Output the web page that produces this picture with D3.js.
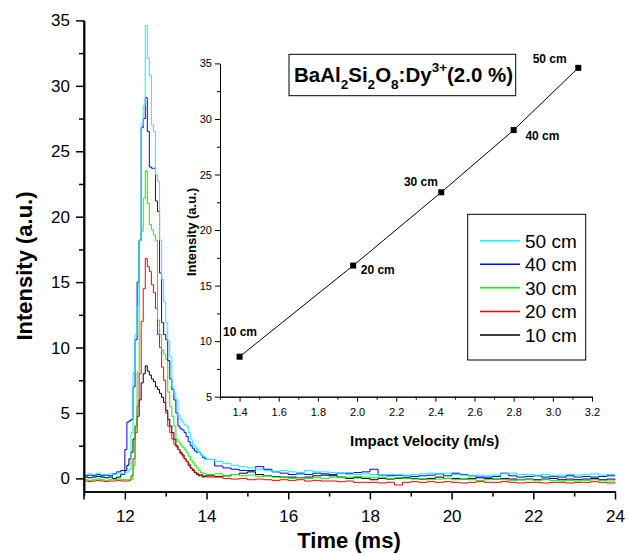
<!DOCTYPE html>
<html><head><meta charset="utf-8">
<script src="https://cdn.jsdelivr.net/npm/d3@7"></script>
<style>body{margin:0;background:#fff} svg{display:block}</style>
</head><body><svg id="c" width="630" height="555"></svg>
<script>
// ---------- DATA ----------
const timeMs = [
 11.0,11.1,11.2,11.3,11.4,11.5,11.6,11.7,11.8,11.9,
 12.00,12.05,12.10,12.15,12.20,12.25,12.30,12.35,12.40,12.45,
 12.50,12.55,12.60,12.65,12.70,12.75,12.80,12.85,12.90,12.95,
 13.00,13.05,13.10,13.15,13.20,13.25,13.30,13.35,13.40,13.45,
 13.50,13.55,13.60,13.65,13.70,13.75,13.80,13.85,13.90,13.95,
 14.0,14.2,14.4,14.6,14.8,15.0,15.2,15.4,15.6,15.8,
 16.0,16.2,16.4,16.6,16.8,17.0,17.2,17.4,17.6,17.8,
 18.0,18.2,18.4,18.6,18.8,19.0,19.2,19.4,19.6,19.8,
 20.0,20.2,20.4,20.6,20.8,21.0,21.2,21.4,21.6,21.8,
 22.0,22.2,22.4,22.6,22.8,23.0,23.2,23.4,23.6,23.8,
 24.0];

const intensity50cm = [
 0.3,0.35,0.3,0.4,0.3,0.3,0.35,0.3,0.4,0.35,
 0.4,0.5,0.7,3.5,8.1,11.0,13.2,18.2,27.0,28.5,
 34.6,32.1,30.8,27.0,26.5,23.2,22.7,18.2,15.2,13.5,
 11.9,10.5,9.3,7.0,6.5,6.0,4.8,4.5,4.3,4.1,
 4.0,3.5,3.0,2.6,2.4,2.2,2.0,1.8,1.7,1.6,
 1.45,1.3,1.15,1.0,0.9,0.8,0.7,0.6,0.55,0.6,
 0.5,0.45,0.6,0.5,0.5,0.45,0.4,0.45,0.3,0.35,
 0.3,0.25,0.3,0.3,0.25,0.3,0.35,0.4,0.35,0.4,
 0.3,0.25,0.2,0.25,0.2,0.25,0.35,0.4,0.3,0.3,
 0.25,0.3,0.2,0.25,0.3,0.25,0.3,0.35,0.25,0.3,
 0.2];
const intensity40cm = [
 0.2,0.25,0.2,0.3,0.2,0.25,0.2,0.35,0.5,0.6,
 2.2,4.3,4.4,4.5,7.0,10.6,15.0,18.2,26.8,27.5,
 29.1,26.5,23.8,23.7,23.7,21.2,20.4,15.7,11.9,11.0,
 10.6,9.0,7.6,6.8,6.0,5.0,4.0,3.8,3.7,3.5,
 3.2,2.8,2.5,2.3,2.1,2.0,2.0,1.8,1.6,1.5,
 1.45,0.95,0.8,0.7,0.6,0.6,0.9,0.7,0.5,0.4,
 0.3,0.35,0.3,0.4,0.35,0.3,0.4,0.35,0.45,0.5,
 0.7,0.25,0.2,0.25,0.2,0.15,0.2,0.25,0.35,0.2,
 0.4,0.3,0.2,0.1,0.1,0.15,0.4,0.2,0.1,0.15,
 0.2,0.1,0.15,0.1,0.2,0.1,0.15,0.1,0.15,0.2,
 0.2];
const intensity30cm = [
 -0.1,-0.15,-0.1,-0.05,-0.1,-0.15,-0.1,-0.1,-0.05,-0.1,
 -0.1,-0.1,-0.1,-0.05,1.0,4.0,8.1,18.2,18.9,21.4,
 23.5,21.0,19.4,19.0,18.6,18.2,12.1,11.0,9.8,9.5,
 9.1,6.6,5.5,4.75,4.0,3.0,2.8,2.6,2.4,2.2,
 2.0,1.7,1.4,1.2,1.0,0.8,0.6,0.45,0.4,0.35,
 0.3,0.35,0.2,0.3,0.2,0.25,0.15,0.2,0.1,0.05,
 0.0,0.05,0.0,0.05,0.0,0.1,0.05,0.1,0.15,0.1,
 0.05,0.1,0.0,0.05,0.0,-0.05,0.0,-0.1,-0.05,0.0,
 -0.1,-0.05,-0.1,-0.15,-0.1,-0.05,-0.1,-0.15,-0.1,-0.1,
 -0.15,-0.1,-0.15,-0.2,-0.15,-0.2,-0.15,-0.1,-0.15,-0.2,
 -0.2];
const intensity20cm = [
 -0.2,-0.25,-0.2,-0.15,-0.2,-0.25,-0.2,-0.2,-0.15,-0.2,
 -0.2,-0.2,-0.15,0.2,1.5,3.5,5.5,8.0,12.0,14.5,
 16.8,16.2,15.8,14.8,14.2,13.0,11.0,10.0,8.5,7.5,
 5.0,4.0,3.5,3.0,2.6,2.4,2.2,1.9,1.7,1.5,
 1.3,1.1,0.8,0.7,0.5,0.4,0.3,0.3,0.2,0.2,
 0.1,0.1,0.0,-0.05,0.0,-0.1,-0.05,-0.1,-0.15,-0.1,
 -0.15,-0.1,-0.2,-0.15,-0.2,-0.2,-0.25,-0.2,-0.3,-0.3,
 -0.3,-0.35,-0.3,-0.5,-0.3,-0.25,-0.3,-0.25,-0.3,-0.25,
 -0.3,-0.35,-0.3,-0.25,-0.3,-0.3,-0.25,-0.3,-0.35,-0.3,
 -0.3,-0.35,-0.3,-0.3,-0.35,-0.3,-0.3,-0.25,-0.3,-0.35,
 -0.3];
const intensity10cm = [
 0.1,0.05,0.1,0.15,0.1,0.05,0.1,0.0,0.1,0.3,
 0.6,1.0,1.5,2.0,3.0,4.0,4.75,6.0,7.3,8.0,
 8.6,8.2,7.9,7.6,7.4,7.0,6.8,6.5,6.2,5.8,
 5.2,4.5,4.0,3.5,3.0,2.5,2.2,2.0,1.8,1.5,
 1.3,1.0,0.8,0.6,0.45,0.3,0.2,0.2,0.1,0.15,
 0.2,0.15,0.2,0.3,0.4,0.5,0.3,0.2,0.15,0.1,
 0.1,0.05,0.1,0.2,0.25,0.2,0.1,0.0,0.05,0.0,
 -0.1,0.0,-0.05,0.0,0.05,0.0,-0.05,0.0,0.1,0.0,
 0.0,-0.05,0.0,0.05,0.0,-0.05,0.0,-0.05,-0.1,-0.05,
 -0.1,-0.05,0.0,-0.1,-0.05,-0.1,-0.05,0.0,-0.1,-0.05,
 -0.1];

const seriesNames = ["50 cm","40 cm","30 cm","20 cm","10 cm"];
const seriesValues = [intensity50cm,intensity40cm,intensity30cm,intensity20cm,intensity10cm];

const mainXTicks = [12,14,16,18,20,22,24];
const mainXMinor = [11,13,15,17,19,21,23];
const mainYTicks = [0,5,10,15,20,25,30,35];
const mainYMinor = [2.5,7.5,12.5,17.5,22.5,27.5,32.5];

// inset
const impactVelocity = [1.40,1.98,2.43,2.80,3.13];
const peakIntensity = [8.6,16.8,23.4,29.0,34.6];
const dropHeights = ["10 cm","20 cm","30 cm","40 cm","50 cm"];
const insetXTicks = [1.4,1.6,1.8,2.0,2.2,2.4,2.6,2.8,3.0,3.2];
const insetXMinor = [1.3,1.5,1.7,1.9,2.1,2.3,2.5,2.7,2.9,3.1];
const insetYTicks = [5,10,15,20,25,30,35];
const insetYMinor = [7.5,12.5,17.5,22.5,27.5,32.5];

// ---------- STYLE ----------
const colors = {"50 cm":"#00ffff","40 cm":"#0000ff","30 cm":"#00ff00","20 cm":"#ff0000","10 cm":"#000000"};
const FONT = "'Liberation Sans', Arial, Helvetica, sans-serif";
const svg = d3.select("#c").style("font-family", FONT);

// ---------- MAIN ----------
const x = d3.scaleLinear().domain([11,24]).range([84,615]);
const y = d3.scaleLinear().domain([-1,35]).range([491.5,20.4]);

function styleAxis(g, fs, sw){
  g.attr("font-family", FONT).attr("font-size", fs);
  g.select(".domain").attr("stroke","#000").attr("stroke-width", sw);
  g.selectAll(".tick line").attr("stroke","#000").attr("stroke-width", sw);
  g.selectAll(".tick text").attr("fill","#000");
}

const plotOrder = ["10 cm","20 cm","30 cm","40 cm","50 cm"];
const line = d3.line().curve(d3.curveStepAfter).x(d=>x(d[0])).y(d=>y(d[1]));
plotOrder.forEach(name=>{
  const vals = seriesValues[seriesNames.indexOf(name)];
  const pts = timeMs.map((t,i)=>[t, vals[i]]).filter(d=>d[1]!==undefined);
  svg.append("path").datum(pts).attr("d", line)
    .attr("fill","none").attr("stroke", colors[name]).attr("stroke-width",1);
});

svg.append("g").attr("transform","translate(0,491.5)")
  .call(d3.axisBottom(x).tickValues(mainXMinor).tickSize(5).tickSizeOuter(0).tickFormat(""))
  .call(g=>styleAxis(g,17,1.5));
svg.append("g").attr("transform","translate(0,491.5)")
  .call(d3.axisBottom(x).tickValues(mainXTicks).tickSize(8).tickPadding(10).tickSizeOuter(0).tickFormat(d3.format("d")))
  .call(g=>styleAxis(g,17,1.5));
svg.append("g").attr("transform","translate(84,0)")
  .call(d3.axisLeft(y).tickValues(mainYMinor).tickSize(5).tickSizeOuter(0).tickFormat(""))
  .call(g=>styleAxis(g,17,1.5));
svg.append("g").attr("transform","translate(84,0)")
  .call(d3.axisLeft(y).tickValues(mainYTicks).tickSize(8).tickPadding(6).tickSizeOuter(0).tickFormat(d3.format("d")))
  .call(g=>styleAxis(g,17,1.5));
svg.append("line").attr("x1",84).attr("x2",84).attr("y1",y(35)).attr("y2",499.5)
  .attr("stroke","#000").attr("stroke-width",1.5);

svg.append("text").attr("x",349).attr("y",548).attr("text-anchor","middle")
  .attr("font-weight","bold").attr("font-size",22).text("Time (ms)");
svg.append("text").attr("transform","translate(31.5,266) rotate(-90)").attr("text-anchor","middle")
  .attr("font-weight","bold").attr("font-size",22).text("Intensity (a.u.)");

// ---------- INSET ----------
const xi = d3.scaleLinear().domain([1.3,3.2]).range([220,592]);
const yi = d3.scaleLinear().domain([5,35]).range([396.7,63.4]);

svg.append("g").attr("transform",`translate(0,${yi(5)})`)
  .call(d3.axisBottom(xi).tickValues(insetXMinor).tickSize(3).tickSizeOuter(0).tickFormat(""))
  .call(g=>styleAxis(g,11,1));
svg.append("g").attr("transform",`translate(0,${yi(5)})`)
  .call(d3.axisBottom(xi).tickValues(insetXTicks).tickSize(5).tickPadding(7).tickSizeOuter(0).tickFormat(d3.format(".1f")))
  .call(g=>styleAxis(g,11,1));
svg.append("g").attr("transform",`translate(${xi(1.3)},0)`)
  .call(d3.axisLeft(yi).tickValues(insetYMinor).tickSize(3).tickSizeOuter(0).tickFormat(""))
  .call(g=>styleAxis(g,11,1));
svg.append("g").attr("transform",`translate(${xi(1.3)},0)`)
  .call(d3.axisLeft(yi).tickValues(insetYTicks).tickSize(5).tickPadding(3).tickSizeOuter(0).tickFormat(d3.format("d")))
  .call(g=>styleAxis(g,11,1));

const insetPts = impactVelocity.map((v,i)=>({v, p:peakIntensity[i], label:dropHeights[i]}));
svg.append("path").datum(insetPts)
  .attr("d", d3.line().x(d=>xi(d.v)).y(d=>yi(d.p)))
  .attr("fill","none").attr("stroke","#000").attr("stroke-width",1);
svg.selectAll(".mk").data(insetPts).enter().append("rect")
  .attr("x",d=>xi(d.v)-3).attr("y",d=>yi(d.p)-3).attr("width",6).attr("height",6).attr("fill","#000");
const labelOffsets = [[-16.6,-20.7],[7.6,8.6],[-37.3,-6.3],[11.7,9.7],[-45.6,-5]];
svg.selectAll(".pl").data(insetPts).enter().append("text")
  .attr("x",(d,i)=>xi(d.v)+labelOffsets[i][0]).attr("y",(d,i)=>yi(d.p)+labelOffsets[i][1])
  .attr("font-weight","bold").attr("font-size",12).text(d=>d.label);

svg.append("text").attr("x",424.7).attr("y",445.5).attr("text-anchor","middle")
  .attr("font-weight","bold").attr("font-size",15).text("Impact Velocity (m/s)");
svg.append("text").attr("transform","translate(196,232) rotate(-90)").attr("text-anchor","middle")
  .attr("font-weight","bold").attr("font-size",13).text("Intensity (a.u.)");

// title box
svg.append("rect").attr("x",289).attr("y",54.3).attr("width",226.7).attr("height",41.4)
  .attr("fill","#fff").attr("stroke","#000").attr("stroke-width",1);
const tt = svg.append("text").attr("x",294).attr("y",81.7).attr("font-weight","bold").attr("font-size",20.5);
[["BaAl",0,20.5],["2",7,13.5],["Si",-7,20.5],["2",7,13.5],["O",-7,20.5],["8",7,13.5],[":Dy",-7,20.5],["3+",-10,13.5],["(2.0 %)",10,20.5]]
 .forEach(([s,dy,fs])=>tt.append("tspan").attr("dy",dy).attr("font-size",fs).text(s));

// legend
const lg = svg.append("g");
lg.append("rect").attr("x",467.7).attr("y",214.3).attr("width",118).attr("height",145.7)
  .attr("fill","#fff").attr("stroke","#000").attr("stroke-width",1);
const rowY = d3.scalePoint().domain(seriesNames).range([240.7,335]);
seriesNames.forEach(name=>{
  lg.append("line").attr("x1",480).attr("x2",520).attr("y1",rowY(name)).attr("y2",rowY(name))
    .attr("stroke",colors[name]).attr("stroke-width",1.5);
  lg.append("text").attr("x",525).attr("y",rowY(name)+7).attr("font-size",19).text(name);
});
</script></body></html>
